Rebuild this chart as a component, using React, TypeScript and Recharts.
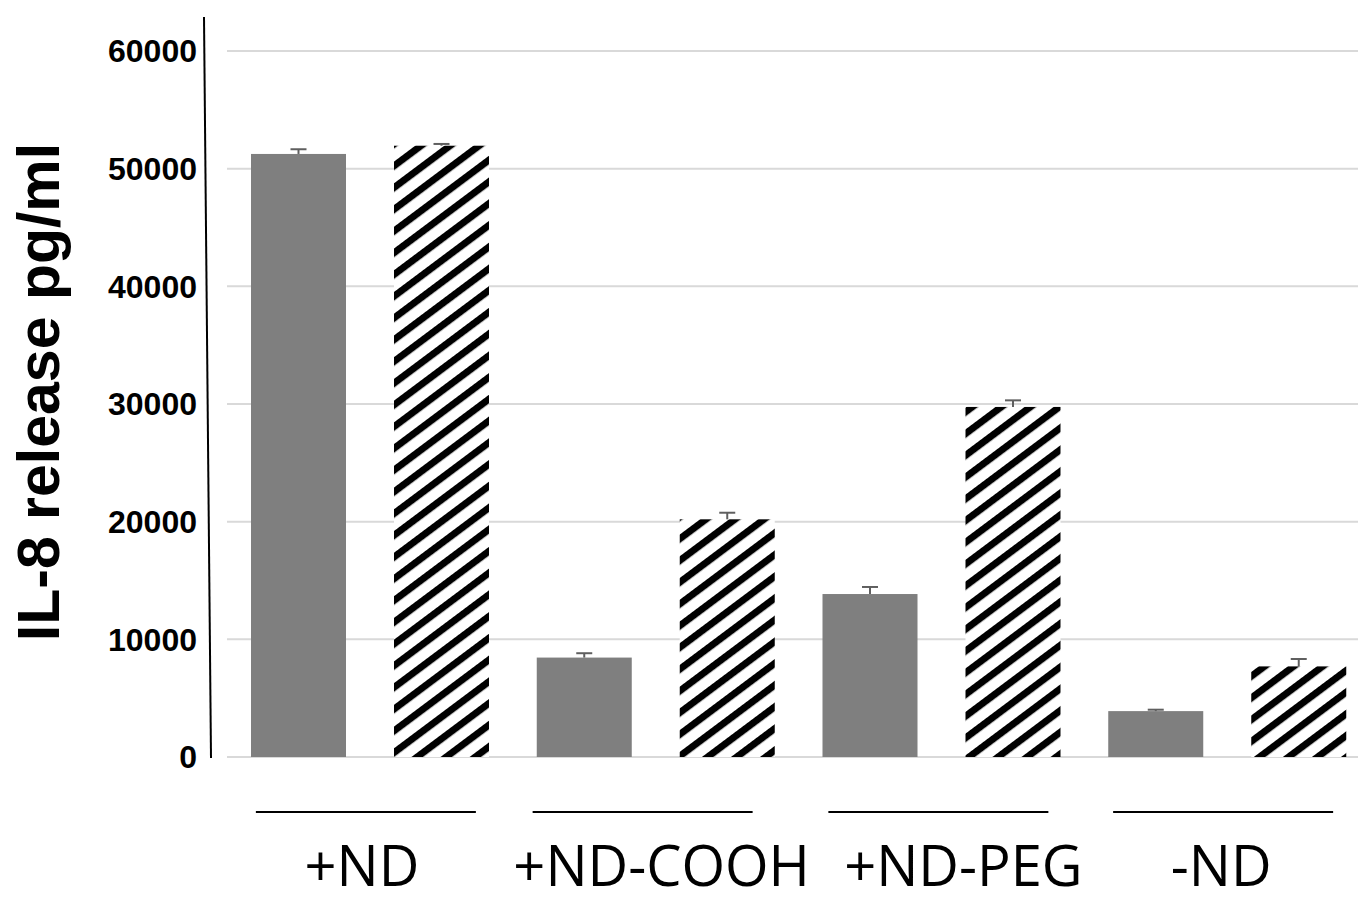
import React from 'react';
import { BarChart, Bar, XAxis, YAxis, CartesianGrid } from 'recharts';

const categories = ['+ND', '+ND-COOH', '+ND-PEG', '-ND'];
const solidValues = [51250, 8450, 13850, 3900];
const solidErrors = [400, 370, 600, 120];
const hatchedValues = [51950, 20200, 29750, 7700];
const hatchedErrors = [150, 560, 560, 630];
const yTicks = [0, 10000, 20000, 30000, 40000, 50000, 60000];
const yTitle = 'IL-8 release pg/ml';

const data = categories.map((c, i) => ({
  name: c,
  solid: solidValues[i],
  solidErr: solidErrors[i],
  hatched: hatchedValues[i],
  hatchedErr: hatchedErrors[i],
}));

const ERR_COLOR = '#5f5f5f';

const makeShape = (fill: string, errKey: string, valKey: string) => (props: any) => {
  const { x, y, width, height, payload } = props;
  const val = payload ? payload[valKey] : 0;
  const err = payload ? payload[errKey] : 0;
  const pxPerUnit = val ? height / val : 0;
  const errPx = err * pxPerUnit;
  const cx = x + width / 2;
  return (
    <g>
      <rect x={x} y={y} width={width} height={height} fill={fill} stroke="none" />
      <line x1={cx} y1={y} x2={cx} y2={y - errPx} stroke={ERR_COLOR} strokeWidth={2} />
      <line x1={cx - 8} y1={y - errPx} x2={cx + 8} y2={y - errPx} stroke={ERR_COLOR} strokeWidth={2} />
    </g>
  );
};

const SolidShape = makeShape('#7f7f7f', 'solidErr', 'solid');
const HatchedShape = makeShape('url(#hatch)', 'hatchedErr', 'hatched');

// small hand-placement nudges of the group captions, as in the original figure
const TEXT_NUDGE = [-8, 6, 22, -6];
const LINE_NUDGE = [-4, -13, -3, -4];

const XTick = (props: any) => {
  const { x, y, payload, index } = props;
  const i = typeof index === 'number' ? index : categories.indexOf(payload.value);
  const tn = TEXT_NUDGE[i] || 0;
  const ln = LINE_NUDGE[i] || 0;
  return (
    <g>
      <line x1={x + ln - 110} y1={y + 55} x2={x + ln + 110} y2={y + 55} stroke="#000" strokeWidth={2} />
      <text
        x={x + tn}
        y={y + 129}
        textAnchor="middle"
        fontFamily="'Open Sans', 'Noto Sans', sans-serif"
        fontSize={56}
        fill="#000"
      >
        {payload.value}
      </text>
    </g>
  );
};

const YLabel = (props: any) => {
  const vb = props.viewBox || { x: 0, y: 51, width: 227, height: 706 };
  const right = vb.x + vb.width;
  const tx = vb.x + 59;
  const ty = vb.y + vb.height / 2 - 12;
  return (
    <g>
      <line
        x1={right - 23}
        y1={vb.y - 34}
        x2={right - 16}
        y2={vb.y + vb.height + 1}
        stroke="#000"
        strokeWidth={2}
      />
      <text
        x={tx}
        y={ty}
        transform={`rotate(-90, ${tx}, ${ty})`}
        textAnchor="middle"
        fontFamily="'Liberation Sans', Arial, sans-serif"
        fontWeight="bold"
        fontSize={59}
        fill="#000"
      >
        {yTitle}
      </text>
    </g>
  );
};

export default function App() {
  return (
    <div
      style={{
        position: 'absolute',
        left: 0,
        top: 0,
        width: 1358,
        height: 907,
        overflow: 'hidden',
        background: '#fff',
      }}
    >
      <BarChart
        width={1372}
        height={907}
        data={data}
        margin={{ top: 51, right: 2, bottom: 0, left: 0 }}
        barSize={95}
        barGap={48}
        barCategoryGap={24}
      >
        <defs>
          <pattern
            id="hatch"
            patternUnits="userSpaceOnUse"
            width={17.4}
            height={17.4}
            patternTransform="rotate(53.2)"
          >
            <rect x={0} y={0} width={17.4} height={17.4} fill="#fff" />
            <rect x={0} y={0} width={7} height={17.4} fill="#000" />
          </pattern>
        </defs>
        <CartesianGrid horizontal vertical={false} stroke="#d9d9d9" strokeWidth={2} />
        <XAxis
          dataKey="name"
          height={150}
          axisLine={false}
          tickLine={false}
          tickSize={0}
          tickMargin={0}
          interval={0}
          tick={<XTick />}
        />
        <YAxis
          width={227}
          domain={[0, 60000]}
          ticks={yTicks}
          interval={0}
          axisLine={false}
          tickLine={false}
          tickSize={0}
          tickMargin={30}
          tick={{
            fontFamily: "'Liberation Sans', Arial, sans-serif",
            fontWeight: 'bold',
            fontSize: 32,
            fill: '#000',
          }}
          label={(p: any) => <YLabel {...p} />}
        />
        <Bar dataKey="solid" isAnimationActive={false} shape={SolidShape} />
        <Bar dataKey="hatched" isAnimationActive={false} shape={HatchedShape} />
      </BarChart>
    </div>
  );
}
